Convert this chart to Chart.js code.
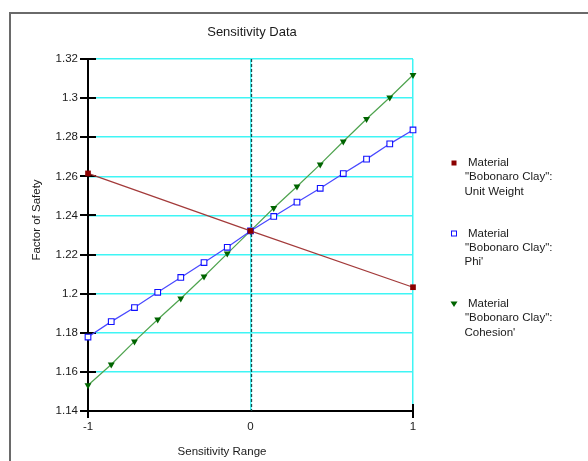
<!DOCTYPE html>
<html>
<head>
<meta charset="utf-8">
<title>Sensitivity Data</title>
<script src="https://cdn.jsdelivr.net/npm/chart.js@4"></script>
<style>
  html, body { margin: 0; padding: 0; background: #fff; }
  canvas { display: block; }
</style>
</head>
<body>
<canvas id="sensChart" width="588" height="461"></canvas>
<script>
// data
const rangeX = [-1, -0.857, -0.714, -0.571, -0.429, -0.286, -0.143, 0, 0.143, 0.286, 0.429, 0.571, 0.714, 0.857, 1];
const phiFS = [1.1778, 1.1857, 1.1929, 1.2007, 1.2083, 1.2159, 1.2237, 1.2321, 1.2395, 1.2468, 1.2539, 1.2614, 1.2688, 1.2766, 1.2837];
const cohesionFS = [1.1532, 1.1638, 1.1756, 1.1868, 1.1975, 1.2088, 1.2205, 1.2321, 1.2438, 1.2548, 1.2661, 1.2778, 1.2893, 1.3003, 1.3118];
const unitWeightX = [-1, 0, 1];
const unitWeightFS = [1.2615, 1.2321, 1.2033];
const yTicks = [1.14, 1.16, 1.18, 1.2, 1.22, 1.24, 1.26, 1.28, 1.3, 1.32];
const xTicks = [-1, 0, 1];
const seriesNames = [
  ['Material', '"Bobonaro Clay":', 'Unit Weight'],
  ['Material', '"Bobonaro Clay":', "Phi'"],
  ['Material', '"Bobonaro Clay":', "Cohesion'"]
];

const FONT = '"Liberation Sans", Arial, sans-serif';
const CYAN = '#3ff5f5';

const toPoints = (xs, ys) => xs.map((x, i) => ({ x: x, y: ys[i] }));

// 프레임, 제목, 축 제목, 눈금선, 범례 그리기
const decorPlugin = {
  id: 'decor',
  beforeDraw(chart) {
    const c = chart.ctx;
    c.save();
    c.fillStyle = '#fff';
    c.fillRect(0, 0, chart.width, chart.height);
    c.strokeStyle = '#6a6a6a';
    c.lineWidth = 2;
    c.beginPath();
    c.moveTo(10, 461);
    c.lineTo(10, 13);
    c.lineTo(588, 13);
    c.stroke();
    c.restore();
  },
  beforeDatasetsDraw(chart) {
    const c = chart.ctx;
    const xs = chart.scales.x, ys = chart.scales.y;
    const x0 = Math.round(xs.getPixelForValue(0)) + 0.5;
    c.save();
    c.strokeStyle = '#1f4848';
    c.lineWidth = 1.3;
    c.setLineDash([3, 2]);
    c.beginPath();
    c.moveTo(x0, ys.getPixelForValue(1.32));
    c.lineTo(x0, ys.getPixelForValue(1.14));
    c.stroke();
    c.setLineDash([]);
    // 눈금 표시 (축을 가로지름)
    c.strokeStyle = '#000';
    c.lineWidth = 2;
    const ax = xs.getPixelForValue(-1);
    yTicks.forEach(v => {
      const py = Math.round(ys.getPixelForValue(v));
      c.beginPath();
      c.moveTo(ax - 8, py);
      c.lineTo(ax + 8, py);
      c.stroke();
    });
    const by = ys.getPixelForValue(1.14);
    [-1, 1].forEach(v => {
      const px = Math.round(xs.getPixelForValue(v));
      c.beginPath();
      c.moveTo(px, by - 7);
      c.lineTo(px, by + 7);
      c.stroke();
    });
    c.restore();
  },
  afterDraw(chart) {
    const c = chart.ctx;
    c.save();
    c.fillStyle = '#1a1a1a';
    c.textAlign = 'center';
    c.textBaseline = 'middle';
    c.font = '13px ' + FONT;
    c.fillText('Sensitivity Data', 252, 32);
    c.font = '11.5px ' + FONT;
    c.fillText('Sensitivity Range', 222, 452);
    c.save();
    c.translate(37, 220);
    c.rotate(-Math.PI / 2);
    c.fillText('Factor of Safety', 0, 0);
    c.restore();

    // 범례
    const rows = [163, 233.5, 304];
    const indents = [468, 465, 464.5];
    c.textAlign = 'left';
    c.font = '11.5px ' + FONT;
    rows.forEach((ry, i) => {
      seriesNames[i].forEach((line, j) => {
        c.fillText(line, indents[j], ry + j * 14.3);
      });
    });
    // 범례 마커
    c.fillStyle = '#8b0000';
    c.fillRect(451.5, 160.5, 5, 5);
    c.strokeStyle = '#1010ff';
    c.lineWidth = 1;
    c.strokeRect(451.5, 231, 5, 5);
    c.fillStyle = '#006400';
    c.beginPath();
    c.moveTo(450.5, 301.5);
    c.lineTo(457.5, 301.5);
    c.lineTo(454, 307);
    c.closePath();
    c.fill();
    c.restore();
  }
};

const ctx = document.getElementById('sensChart').getContext('2d');
new Chart(ctx, {
  type: 'scatter',
  data: {
    datasets: [
      {
        label: seriesNames[0].join(' '),
        data: toPoints(unitWeightX, unitWeightFS),
        showLine: true,
        borderColor: '#a33a3a',
        borderWidth: 1.2,
        pointStyle: 'rect',
        pointRadius: 4,
        pointBackgroundColor: '#8b0000',
        pointBorderColor: '#8b0000',
        pointBorderWidth: 0,
        clip: false
      },
      {
        label: seriesNames[1].join(' '),
        data: toPoints(rangeX, phiFS),
        showLine: true,
        borderColor: '#4848ff',
        borderWidth: 1.2,
        pointStyle: 'rect',
        pointRadius: 4,
        pointBackgroundColor: '#ffffff',
        pointBorderColor: '#1010ff',
        pointBorderWidth: 1.1,
        clip: false
      },
      {
        label: seriesNames[2].join(' '),
        data: toPoints(rangeX, cohesionFS),
        showLine: true,
        borderColor: '#4ea34e',
        borderWidth: 1.2,
        pointStyle: 'triangle',
        rotation: 180,
        pointRadius: 4,
        pointBackgroundColor: '#006400',
        pointBorderColor: '#006400',
        pointBorderWidth: 0,
        clip: false
      }
    ]
  },
  options: {
    responsive: false,
    animation: false,
    events: [],
    layout: { padding: { left: 0, top: 59, right: 175, bottom: 0 } },
    plugins: {
      legend: { display: false },
      tooltip: { enabled: false },
      title: { display: false }
    },
    scales: {
      x: {
        type: 'linear',
        min: -1,
        max: 1,
        afterFit: scale => { scale.height = 50; },
        afterBuildTicks: scale => { scale.ticks = xTicks.map(v => ({ value: v })); },
        ticks: {
          padding: 9,
          color: '#1a1a1a',
          font: { family: FONT, size: 11.5 },
          callback: v => String(v)
        },
        grid: {
          drawTicks: false,
          lineWidth: 1.5,
          color: c => (c.tick && c.tick.value === -1) ? 'rgba(0,0,0,0)' : CYAN
        },
        border: { color: '#000', width: 2 }
      },
      y: {
        type: 'linear',
        min: 1.14,
        max: 1.32,
        afterFit: scale => { scale.width = 88; },
        afterBuildTicks: scale => { scale.ticks = yTicks.map(v => ({ value: v })); },
        ticks: {
          padding: 10,
          color: '#1a1a1a',
          font: { family: FONT, size: 11.5 },
          callback: v => String(Math.round(v * 100) / 100)
        },
        grid: {
          drawTicks: false,
          lineWidth: 1.5,
          color: c => (c.tick && c.tick.value === 1.14) ? 'rgba(0,0,0,0)' : CYAN
        },
        border: { color: '#000', width: 2 }
      }
    }
  },
  plugins: [decorPlugin]
});
</script>
</body>
</html>
